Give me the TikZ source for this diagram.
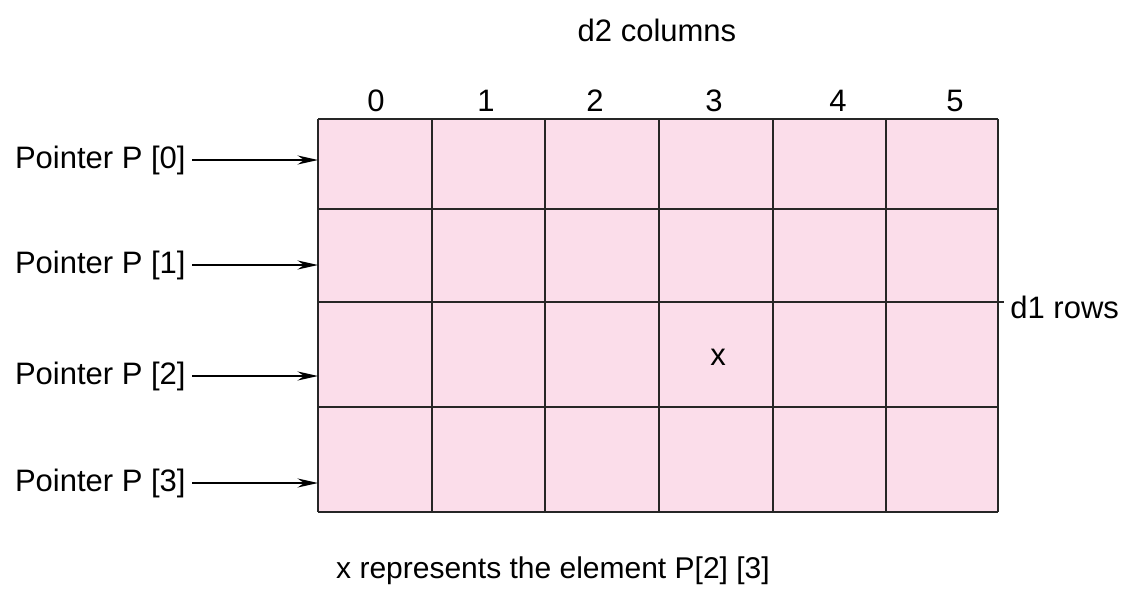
\documentclass[tikz,border=0pt]{standalone}
\usepackage{fontspec}
\setmainfont{Liberation Sans}
\usetikzlibrary{arrows.meta, positioning}

\definecolor{cellpink}{HTML}{FBDDEA}

\begin{document}
\begin{tikzpicture}[
  x=0.5pt, y=-0.5pt,
  label/.style={inner sep=0pt, font=\fontsize{15.5}{18}\selectfont},
  gridline/.style={line width=1pt, draw=black!85},
  arrow/.style={-{Stealth[length=3.6mm, width=1.6mm]}, line width=0.8pt}
]
\useasboundingbox (0,0) rectangle (1131,589);

% array body
\fill[cellpink] (318,119) rectangle (998,512);
\foreach \xx in {318,432,545,659,773,886,998}
  \draw[gridline] (\xx,119) -- (\xx,512);
\foreach \yy in {119,209,302,407,512}
  \draw[gridline] (318,\yy) -- (998,\yy);
\draw[gridline] (998,302) -- (1004,302);

% column numbers
\foreach \cx/\n in {376/0, 486/1, 595/2, 714/3, 838/4, 955/5}
  \node[label] (col\n) at (\cx,101) {\n};
\node[label] (cols) at (657,30) {d2 columns};
\node[label, anchor=west] (rows) at (1010,307) {d1 rows};

% row pointers
\foreach \py/\n in {160/0, 265/1, 376/2, 483/3} {
  \node[label, anchor=east] (ptr\n) at (186,\py) {Pointer P [\n]};
  \coordinate (row\n) at (318,\py);
  \draw[arrow, shorten <=3pt] (ptr\n.east) -- (row\n);
}

\node[label] (elem) at (718,357) {x};
\node[label, font=\fontsize{15}{18}\selectfont] (note) at (553,571) {x represents the element P[2] [3]};
\end{tikzpicture}
\end{document}
